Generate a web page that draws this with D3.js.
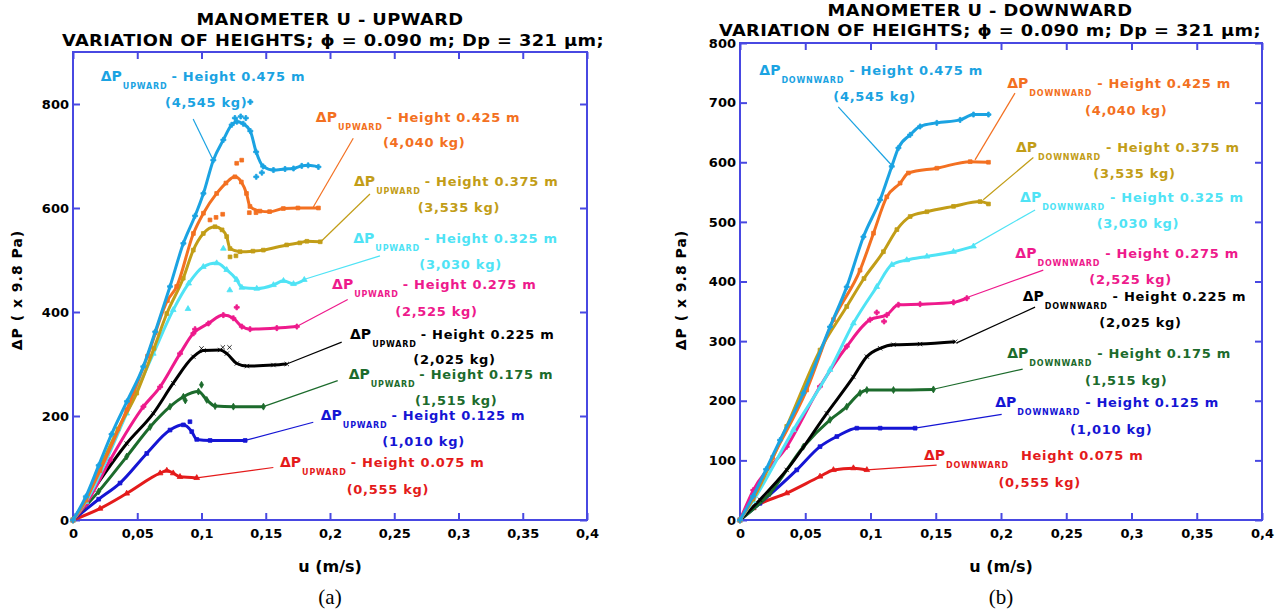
<!DOCTYPE html>
<html>
<head>
<meta charset="utf-8">
<script src="https://cdn.jsdelivr.net/npm/d3@7.9.0/dist/d3.min.js"></script>
<style>
  body { margin: 0; background: #fff; }
  svg text { font-family: "DejaVu Sans", Verdana, sans-serif; font-weight: bold; }
</style>
</head>
<body>
<svg id="chart" width="1288" height="611"></svg>
<script>
// ====== DATA ======
const heights = ["0.475", "0.425", "0.375", "0.325", "0.275", "0.225", "0.175", "0.125", "0.075"];
const masses = ["(4,545 kg)", "(4,040 kg)", "(3,535 kg)", "(3,030 kg)", "(2,525 kg)", "(2,025 kg)", "(1,515 kg)", "(1,010 kg)", "(0,555 kg)"];
const xTickValues = [0, 0.05, 0.1, 0.15, 0.2, 0.25, 0.3, 0.35, 0.4];
const xTickLabels = ["0", "0,05", "0,1", "0,15", "0,2", "0,25", "0,3", "0,35", "0,4"];
const upYTicks = [0, 200, 400, 600, 800];
const dnYTicks = [0, 100, 200, 300, 400, 500, 600, 700, 800];

// upward: [u (m/s), dP (x 9.8 Pa)]
const up475 = [[0,0],[0.01,45],[0.02,105],[0.03,165],[0.042,228],[0.0547,295],[0.064,362],[0.0755,449],[0.0859,532],[0.095,585],[0.1015,628],[0.1092,692],[0.117,731],[0.1235,760],[0.1275,766],[0.1325,762],[0.138,748],[0.1425,708],[0.148,680],[0.156,673],[0.165,675],[0.1716,676],[0.178,681],[0.183,682],[0.191,679]];
const up425 = [[0,0],[0.01,40],[0.021,95],[0.0418,212],[0.058,315],[0.0735,422],[0.0807,449],[0.0937,551],[0.1015,590],[0.1118,628],[0.119,648],[0.126,660],[0.131,650],[0.135,628],[0.1377,603],[0.1455,594],[0.153,593],[0.1637,599],[0.175,600],[0.191,600]];
const up375 = [[0,0],[0.01,38],[0.021,100],[0.035,175],[0.0496,244],[0.063,330],[0.073,397],[0.0858,465],[0.0936,519],[0.1014,551],[0.1105,564],[0.116,558],[0.1196,545],[0.1222,522],[0.13,516],[0.14,517],[0.1481,519],[0.1663,529],[0.1765,533],[0.182,536],[0.1924,535]];
const up325 = [[0,0],[0.01,35],[0.0418,205],[0.0625,320],[0.078,404],[0.09,455],[0.1014,487],[0.1118,494],[0.1196,481],[0.1274,462],[0.1314,447],[0.143,445],[0.156,452],[0.1638,460],[0.1716,454],[0.18,462]];
const up275 = [[0,0],[0.01,30],[0.0288,115],[0.0548,218],[0.0678,256],[0.0833,320],[0.0937,359],[0.1054,378],[0.117,394],[0.1248,388],[0.1314,372],[0.1378,367],[0.1586,369],[0.1742,372]];
const up225 = [[0,0],[0.0158,58],[0.0418,147],[0.0625,205],[0.078,263],[0.0937,314],[0.1015,326],[0.1145,327],[0.1197,320],[0.1275,301],[0.1353,296],[0.156,298],[0.1664,300]];
const up175 = [[0,0],[0.02,55],[0.0418,122],[0.06,179],[0.0755,218],[0.0859,237],[0.0976,247],[0.1041,231],[0.1106,219],[0.1248,218],[0.1482,218]];
const up125 = [[0,0],[0.02,40],[0.0366,71],[0.0574,128],[0.0755,173],[0.0859,183],[0.0924,170],[0.0963,155],[0.1067,153],[0.134,153]];
const up075 = [[0,0],[0.021,22],[0.0418,51],[0.0678,90],[0.073,95],[0.078,90],[0.0833,83],[0.0963,81]];

// stray readings
const upStray475 = [[0.126,773],[0.1305,776],[0.1345,773],[0.138,804],[0.1426,660],[0.147,668]];
const upStray425 = [[0.1274,686],[0.1313,692],[0.1066,577],[0.1113,582],[0.1165,588],[0.1372,591],[0.1424,591],[0.064,360]];
const upStray375 = [[0.1222,506],[0.1268,508]];
const upStray325 = [[0.117,522],[0.0895,406],[0.122,442]];
const upStray275 = [[0.1274,409],[0.095,367]];
const upStray225 = [[0.1,330],[0.1166,332],[0.1218,332]];
const upStray175 = [[0.1,260],[0.0874,230]];
const upStray125 = [[0.091,189]];
const upStray075 = [];

// downward
const dn475 = [[0,0],[0.01,40],[0.02,85],[0.0307,134],[0.0486,213],[0.069,324],[0.0818,391],[0.0946,475],[0.1074,537],[0.1163,593],[0.1214,624],[0.1304,646],[0.138,660],[0.1508,666],[0.1687,671],[0.1789,680],[0.1904,680]];
const dn425 = [[0,0],[0.01,38],[0.025,105],[0.0511,218],[0.0716,336],[0.092,419],[0.1023,481],[0.1125,542],[0.1227,565],[0.129,582],[0.1508,590],[0.1764,601],[0.1904,600]];
const dn375 = [[0,0],[0.01,35],[0.0358,157],[0.0613,285],[0.0818,358],[0.095,405],[0.1099,450],[0.1202,487],[0.1304,509],[0.1432,517],[0.1636,526],[0.184,534],[0.1904,530]];
const dn325 = [[0,0],[0.01,32],[0.0409,151],[0.069,252],[0.0869,330],[0.1048,391],[0.1163,428],[0.1278,436],[0.1432,442],[0.1636,450],[0.1789,459]];
const dn275 = [[0,0],[0.0102,50],[0.0358,123],[0.0613,224],[0.0818,291],[0.0997,336],[0.1125,344],[0.1214,361],[0.138,362],[0.1636,365],[0.1738,372]];
const dn225 = [[0,0],[0.0153,34],[0.0358,84],[0.0665,179],[0.0869,240],[0.0972,274],[0.1074,288],[0.1176,294],[0.138,295],[0.1649,299]];
const dn175 = [[0,0],[0.023,45],[0.0486,123],[0.069,168],[0.0818,190],[0.092,213],[0.0972,218],[0.1176,218],[0.1482,219]];
const dn125 = [[0,0],[0.0153,28],[0.0435,84],[0.0613,123],[0.0742,140],[0.0895,154],[0.1074,154],[0.1342,154]];
const dn075 = [[0,0],[0.0102,20],[0.0358,45],[0.0613,73],[0.0716,84],[0.0869,87],[0.0972,84]];
const dnStray275 = [[0.1048,348],[0.1104,333]];

// ====== STYLE / LAYOUT ======
const colors = ["#1ba3e2", "#f37021", "#c29d17", "#4fe3f5", "#ee1a8c", "#000000", "#1c6b2c", "#1515d4", "#e41b1b"];
const symbols = [d3.symbolCross, d3.symbolSquare, d3.symbolSquare, d3.symbolTriangle, d3.symbolCross, d3.symbolTimes, d3.symbolDiamond, d3.symbolSquare, d3.symbolTriangle];
const frameColor = "#4848e2";

// label anchors in data units: [u, dP]
const upTagPos = [[0.0216,845],[0.189,766],[0.2187,643],[0.2181,533],[0.2016,444],[0.2156,349],[0.2145,271],[0.1928,192],[0.1611,101]];
const upMassPos = [[0.0716,795],[0.2412,717],[0.2682,593],[0.2695,483],[0.2508,393],[0.2648,300],[0.2661,221],[0.2407,142],[0.213,50]];
const upLeaders = [[[0.0935,771],[0.1091,692]],[[0.2181,734],[0.187,602]],[[0.2311,627],[0.1928,535]],[[0.2389,508],[0.179,462]],[[0.2138,424],[0.1741,372]],[[0.2091,342],[0.1663,300]],[[0.206,268],[0.1481,218]],[[0.187,188],[0.1339,153]],[[0.1559,101],[0.0963,81]]];
const dnTagPos = [[0.0148,746],[0.2048,724],[0.2115,618],[0.2146,534],[0.211,439],[0.2166,368],[0.2048,271],[0.1956,189],[0.141,101]];
const dnMassPos = [[0.0715,703],[0.2644,679],[0.2707,573],[0.2733,489],[0.2677,395],[0.2753,323],[0.2644,226],[0.2529,145],[0.198,56]];
const dnLeaders = [[[0.0753,693],[0.1162,595]],[[0.2107,716],[0.1801,604]],[[0.2248,608],[0.1864,537]],[[0.2261,520],[0.1788,461]],[[0.2324,419],[0.1724,372]],[[0.2261,357],[0.166,297]],[[0.2166,253],[0.1456,218]],[[0.2005,177],[0.1341,154]],[[0.1507,92],[0.0971,84]]];

const svg = d3.select("#chart");

function drawPanel(p) {
  const x = d3.scaleLinear().domain([0, 0.4]).range([p.left, p.right]);
  const y = d3.scaleLinear().domain([0, p.yMax]).range([p.bottom, p.top]);
  const g = svg.append("g");

  // titles (slightly widened to match the original lettering)
  g.append("text").attr("transform", `translate(${p.t1x},${p.t1y}) scale(1.08,1)`).attr("text-anchor", "middle")
    .attr("font-size", 16.5).attr("letter-spacing", 0.4).text(p.title1);
  g.append("text").attr("transform", `translate(${p.t2x},${p.t2y}) scale(1.08,1)`).attr("text-anchor", "middle")
    .attr("font-size", 16.5).attr("letter-spacing", 0.4).text("VARIATION OF HEIGHTS; \u03d5 = 0.090 m; Dp = 321 \u03bcm;");

  // axes (ticks inward)
  const axes = [
    d3.axisBottom(x).tickValues(xTickValues).tickFormat((d, i) => xTickLabels[i]).tickSizeInner(-7).tickSizeOuter(0).tickPadding(9),
    d3.axisTop(x).tickValues(xTickValues).tickFormat("").tickSizeInner(-7).tickSizeOuter(0),
    d3.axisLeft(y).tickValues(p.yTicks).tickSizeInner(-7).tickSizeOuter(0).tickPadding(4),
    d3.axisRight(y).tickValues(p.yTicks).tickFormat("").tickSizeInner(-7).tickSizeOuter(0)
  ];
  const places = [[0, p.bottom], [0, p.top], [p.left, 0], [p.right, 0]];
  axes.forEach((ax, i) => {
    const a = g.append("g").attr("transform", `translate(${places[i][0]},${places[i][1]})`).call(ax);
    a.select(".domain").remove();
    a.selectAll("line").attr("stroke", frameColor).attr("stroke-width", 2);
    a.selectAll("text").attr("fill", "#000").attr("font-size", 13)
      .attr("font-family", "DejaVu Sans, Verdana, sans-serif").attr("font-weight", "bold");
  });
  g.append("rect").attr("x", p.left).attr("y", p.top)
    .attr("width", p.right - p.left).attr("height", p.bottom - p.top)
    .attr("fill", "none").attr("stroke", frameColor).attr("stroke-width", 2);

  // axis titles
  g.append("text").attr("transform", `translate(${p.ylx},290) rotate(-90)`)
    .attr("text-anchor", "middle").attr("font-size", 14).attr("letter-spacing", 1).text("\u0394P ( x 9.8 Pa)");
  g.append("text").attr("x", (p.left + p.right) / 2).attr("y", 572).attr("text-anchor", "middle")
    .attr("font-size", 16).text("u (m/s)");
  g.append("text").attr("x", (p.left + p.right) / 2).attr("y", 604).attr("text-anchor", "middle")
    .style("font-family", "'Liberation Serif', 'Times New Roman', serif").style("font-weight", "normal")
    .attr("font-size", 21).text(p.caption);

  // leader lines
  p.leaders.forEach((l, i) => {
    g.append("line").attr("x1", x(l[0][0])).attr("y1", y(l[0][1]))
      .attr("x2", x(l[1][0])).attr("y2", y(l[1][1]))
      .attr("stroke", colors[i]).attr("stroke-width", 1.2);
  });

  // curves, drawn bottom series first
  const line = d3.line().x(d => x(d[0])).y(d => y(d[1])).curve(d3.curveMonotoneX);
  for (let i = p.series.length - 1; i >= 0; i--) {
    g.append("path").datum(p.series[i]).attr("d", line)
      .attr("fill", "none").attr("stroke", colors[i]).attr("stroke-width", 3)
      .attr("stroke-linejoin", "round");
    const sym = d3.symbol().type(symbols[i]).size(14);
    g.selectAll(null).data(p.series[i].concat(p.stray[i])).join("path")
      .attr("transform", d => `translate(${x(d[0])},${y(d[1])})`)
      .attr("d", sym).attr("fill", colors[i]).attr("stroke", colors[i]).attr("stroke-width", 0.8);
  }

  // series labels
  heights.forEach((h, i) => {
    const t = g.append("text").attr("x", x(p.tagPos[i][0])).attr("y", y(p.tagPos[i][1])).attr("fill", colors[i]);
    t.append("tspan").attr("font-size", 14).text("\u0394P");
    t.append("tspan").attr("font-size", 8).attr("letter-spacing", 0.8).attr("dx", 1).attr("dy", 8).text(p.sub);
    t.append("tspan").attr("font-size", 13).attr("letter-spacing", 0.7).attr("dy", -8)
      .attr("dx", p.gap[i]).text(p.heightText[i]);
    g.append("text").attr("x", x(p.massPos[i][0])).attr("y", y(p.massPos[i][1])).attr("fill", colors[i])
      .attr("font-size", 13).attr("letter-spacing", 0.7).text(masses[i]);
  });
}

drawPanel({
  left: 73, right: 587, top: 52, bottom: 520, yMax: 900, yTicks: upYTicks,
  title1: "MANOMETER U - UPWARD", t1x: 330, t1y: 25, t2x: 333, t2y: 46, ylx: 22, caption: "(a)",
  series: [up475, up425, up375, up325, up275, up225, up175, up125, up075],
  stray: [upStray475, upStray425, upStray375, upStray325, upStray275, upStray225, upStray175, upStray125, upStray075],
  tagPos: upTagPos, massPos: upMassPos, leaders: upLeaders, sub: "UPWARD",
  heightText: heights.map(h => "- Height " + h + " m"), gap: heights.map(() => 4)
});

drawPanel({
  left: 740, right: 1262, top: 43, bottom: 520, yMax: 800, yTicks: dnYTicks,
  title1: "MANOMETER U - DOWNWARD", t1x: 980, t1y: 16, t2x: 990, t2y: 35.5, ylx: 686, caption: "(b)",
  series: [dn475, dn425, dn375, dn325, dn275, dn225, dn175, dn125, dn075],
  stray: [[], [], [], [], dnStray275, [], [], [], []],
  tagPos: dnTagPos, massPos: dnMassPos, leaders: dnLeaders, sub: "DOWNWARD",
  heightText: heights.map((h, i) => (i === 8 ? "Height " : "- Height ") + h + " m"),
  gap: heights.map((h, i) => (i === 8 ? 12 : 5))
});
</script>
</body>
</html>
